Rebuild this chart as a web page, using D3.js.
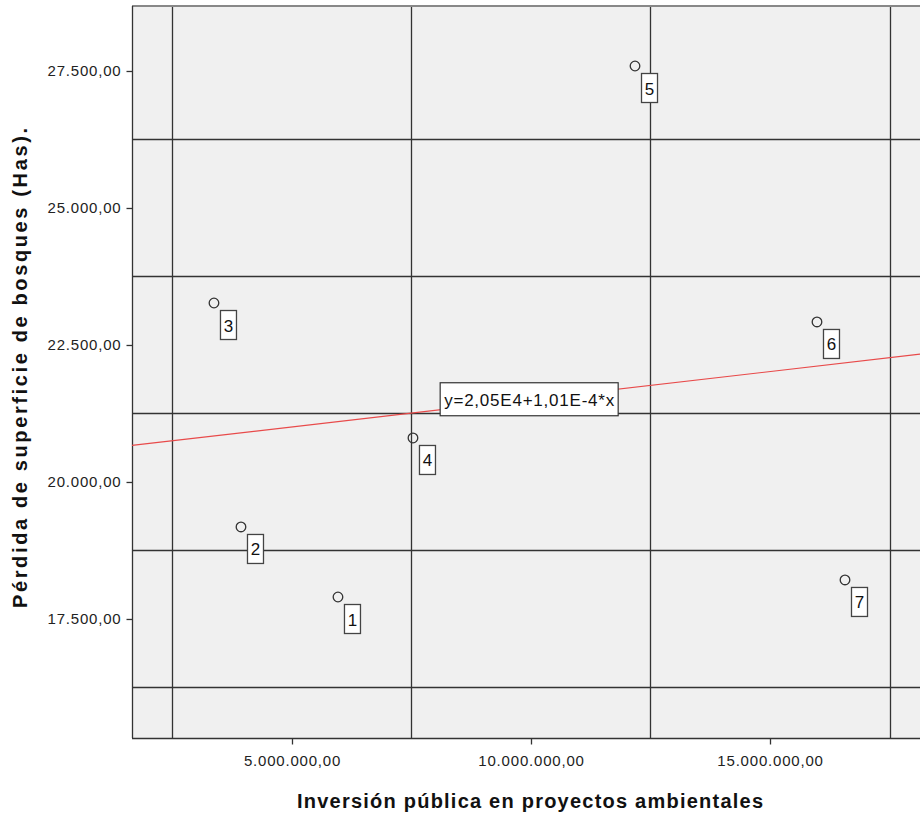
<!DOCTYPE html>
<meta charset="utf-8">
<body style="margin:0;background:#fff">
<script src="https://d3js.org/d3.v7.min.js"></script>
<script>
// data
var caseIds = ["1", "2", "3", "4", "5", "6", "7"];
var inversion = [5962000, 3933000, 3368000, 7531000, 12176000, 15983000, 16569000];
var perdida = [17901, 19179, 23266, 20803, 27591, 22920, 18212];
var xTicks = [5000000, 10000000, 15000000];
var yTicks = [17500, 20000, 22500, 25000, 27500];
var xGrid = [2500000, 7500000, 12500000, 17500000];
var yGrid = [16250, 18750, 21250, 23750, 26250];
var intercept = 20500, slope = 0.000101;
var eqLabel = "y=2,05E4+1,01E-4*x";

var width = 920, height = 816;
var pLeft = 132, pRight = 920, pTop = 6, pBottom = 738;
var font = "Arial, 'Liberation Sans', sans-serif";

var es = d3.formatLocale({decimal: ",", thousands: ".", grouping: [3], currency: ["", ""]});
var fmt = es.format(",.2f");

var x = d3.scaleLinear().domain([1653000, 18138000]).range([pLeft, pRight]);
var y = d3.scaleLinear().domain([15328, 28686]).range([pBottom, pTop]);

var svg = d3.select("body").append("svg")
    .attr("width", width)
    .attr("height", height)
    .style("font-family", font);

svg.append("rect")
    .attr("x", pLeft).attr("y", pTop)
    .attr("width", pRight - pLeft).attr("height", pBottom - pTop)
    .attr("fill", "#f0f0f0");

// grid
svg.append("g").selectAll("line")
    .data(xGrid)
  .enter().append("line")
    .attr("x1", d => Math.round(x(d)) + 0.5).attr("x2", d => Math.round(x(d)) + 0.5)
    .attr("y1", pTop).attr("y2", pBottom)
    .attr("stroke", "#333").attr("stroke-width", 1.3);

svg.append("g").selectAll("line")
    .data(yGrid)
  .enter().append("line")
    .attr("y1", d => Math.round(y(d)) + 0.5).attr("y2", d => Math.round(y(d)) + 0.5)
    .attr("x1", pLeft).attr("x2", pRight)
    .attr("stroke", "#333").attr("stroke-width", 1.3);

// frame
svg.append("line").attr("x1", pLeft).attr("x2", pRight).attr("y1", pTop).attr("y2", pTop)
    .attr("stroke", "#888").attr("stroke-width", 2);
svg.append("line").attr("x1", pLeft + 0.5).attr("x2", pLeft + 0.5).attr("y1", pTop).attr("y2", pBottom)
    .attr("stroke", "#333").attr("stroke-width", 1.3);
svg.append("line").attr("x1", pLeft).attr("x2", pRight).attr("y1", pBottom + 0.5).attr("y2", pBottom + 0.5)
    .attr("stroke", "#333").attr("stroke-width", 1.3);

// axes
var xAxis = svg.append("g")
    .attr("transform", "translate(0," + (pBottom + 0.5) + ")")
    .call(d3.axisBottom(x).tickValues(xTicks).tickFormat(fmt).tickSize(6).tickPadding(11));
var yAxis = svg.append("g")
    .attr("transform", "translate(" + (pLeft + 0.5) + ",0)")
    .call(d3.axisLeft(y).tickValues(yTicks).tickFormat(fmt).tickSize(6).tickPadding(5));
[xAxis, yAxis].forEach(function(a) {
  a.select(".domain").remove();
  a.selectAll("line").attr("stroke", "#333").attr("stroke-width", 1.3);
  a.selectAll("text").attr("fill", "#222").style("font-size", "15px")
    .style("letter-spacing", "0.8px")
    .style("font-family", font);
});

// regression line
var xd = x.domain();
svg.append("line")
    .attr("x1", x(xd[0])).attr("y1", y(intercept + slope * xd[0]))
    .attr("x2", x(xd[1])).attr("y2", y(intercept + slope * xd[1]))
    .attr("stroke", "#e84a4a").attr("stroke-width", 1.2);

// equation label
var eqX = 8100000;
var eqG = svg.append("g")
    .attr("transform", "translate(" + x(eqX) + "," + (y(intercept + slope * eqX) - 27) + ")");
eqG.append("rect")
    .attr("x", 0).attr("y", 0).attr("width", 178).attr("height", 33)
    .attr("fill", "#fff").attr("stroke", "#333").attr("stroke-width", 1.2);
eqG.append("text")
    .attr("x", 4).attr("y", 23)
    .attr("textLength", 170).attr("lengthAdjust", "spacing")
    .style("font-size", "17px").attr("fill", "#111")
    .text(eqLabel);

// points
var pts = svg.append("g").selectAll("g")
    .data(caseIds.map((c, i) => ({id: c, x: inversion[i], y: perdida[i]})))
  .enter().append("g")
    .attr("transform", d => "translate(" + x(d.x) + "," + y(d.y) + ")");

pts.append("circle")
    .attr("r", 4.8)
    .attr("fill", "none")
    .attr("stroke", "#333")
    .attr("stroke-width", 1.3);

pts.append("rect")
    .attr("x", 6.5).attr("y", 7.5).attr("width", 16).attr("height", 29)
    .attr("fill", "#fff").attr("stroke", "#444").attr("stroke-width", 1.3);

pts.append("text")
    .attr("x", 14.5).attr("y", 28.5)
    .attr("text-anchor", "middle")
    .style("font-size", "17px").attr("fill", "#111")
    .text(d => d.id);

// axis titles
svg.append("text")
    .attr("x", 297).attr("y", 808)
    .attr("textLength", 466).attr("lengthAdjust", "spacing")
    .style("font-size", "20px").style("font-weight", "bold").attr("fill", "#111")
    .text("Inversión pública en proyectos ambientales");

svg.append("text")
    .attr("transform", "translate(27,608) rotate(-90)")
    .attr("textLength", 480).attr("lengthAdjust", "spacing")
    .style("font-size", "20px").style("font-weight", "bold").attr("fill", "#111")
    .text("Pérdida de superficie de bosques (Has).");
</script>
</body>
